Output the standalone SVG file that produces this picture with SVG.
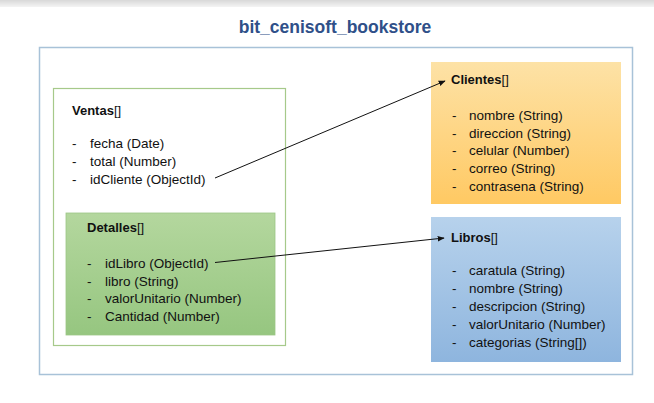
<svg xmlns="http://www.w3.org/2000/svg" width="654" height="403" viewBox="0 0 654 403">
<style>
text{font-family:"Liberation Sans",Arial,sans-serif;fill:#111}
.item{font-size:13.5px}
.hdr{font-size:13px}
.b{font-weight:bold}
.conn{stroke:#111;stroke-width:1;fill:none;marker-end:url(#arr)}
</style>
<defs>
<marker id="arr" viewBox="0 0 10 10" refX="9" refY="5" markerWidth="7" markerHeight="7" orient="auto" markerUnits="userSpaceOnUse">
<path d="M0,1 L10,5 L0,9 z" fill="#111"/>
</marker>
<linearGradient id="gGreen" x1="0" y1="0" x2="0" y2="1"><stop offset="0" stop-color="#B4D79E"/><stop offset="1" stop-color="#96C680"/></linearGradient>
<linearGradient id="gOrange" x1="0" y1="0" x2="0" y2="1"><stop offset="0" stop-color="#FDE2A6"/><stop offset="1" stop-color="#FFC963"/></linearGradient>
<linearGradient id="gBlue" x1="0" y1="0" x2="0" y2="1"><stop offset="0" stop-color="#B7D2EC"/><stop offset="1" stop-color="#8EB5DE"/></linearGradient>
<linearGradient id="gTop" x1="0" y1="0" x2="0" y2="1"><stop offset="0" stop-color="#d8d8d8"/><stop offset="1" stop-color="#f4f4f4"/></linearGradient>
</defs>
<rect width="654" height="403" fill="#fff"/>
<rect width="654" height="7" fill="url(#gTop)"/>
<g id="title"><text x="335" y="33" text-anchor="middle" class="b" style="font-size:17.5px;fill:#2F5089">bit_cenisoft_bookstore</text></g>
<g id="frame"><rect x="39.5" y="47.5" width="593" height="327" fill="none" stroke="#A8C2D8" stroke-width="1.5"/></g>
<g id="ventas">
<rect x="53.5" y="88.5" width="232" height="257" fill="#fff" stroke="#A6C98A" stroke-width="1.2"/>
<text x="72" y="115" class="hdr"><tspan class="b">Ventas</tspan>[]</text>
<text class="item"><tspan x="72" y="148">-</tspan><tspan x="90" y="148">fecha (Date)</tspan><tspan x="72" y="166">-</tspan><tspan x="90" y="166">total (Number)</tspan><tspan x="72" y="184">-</tspan><tspan x="90" y="184">idCliente (ObjectId)</tspan></text>
</g>
<g id="detalles">
<rect x="66" y="213" width="209" height="122" fill="url(#gGreen)" stroke="#9CC585" stroke-width="0.8"/>
<text x="87" y="232" class="hdr"><tspan class="b">Detalles</tspan>[]</text>
<text class="item"><tspan x="87" y="268">-</tspan><tspan x="105" y="268">idLibro (ObjectId)</tspan><tspan x="87" y="285.5">-</tspan><tspan x="105" y="285.5">libro (String)</tspan><tspan x="87" y="303">-</tspan><tspan x="105" y="303">valorUnitario (Number)</tspan><tspan x="87" y="320.5">-</tspan><tspan x="105" y="320.5">Cantidad (Number)</tspan></text>
</g>
<g id="clientes">
<rect x="431" y="62" width="190" height="142" fill="url(#gOrange)"/>
<text x="451" y="84" class="hdr"><tspan class="b">Clientes</tspan>[]</text>
<text class="item"><tspan x="452" y="120">-</tspan><tspan x="469" y="120">nombre (String)</tspan><tspan x="452" y="137.5">-</tspan><tspan x="469" y="137.5">direccion (String)</tspan><tspan x="452" y="155">-</tspan><tspan x="469" y="155">celular (Number)</tspan><tspan x="452" y="173">-</tspan><tspan x="469" y="173">correo (String)</tspan><tspan x="452" y="191">-</tspan><tspan x="469" y="191">contrasena (String)</tspan></text>
</g>
<g id="libros">
<rect x="431" y="217" width="190" height="145" fill="url(#gBlue)"/>
<text x="451" y="242" class="hdr"><tspan class="b">Libros</tspan>[]</text>
<text class="item"><tspan x="452" y="275">-</tspan><tspan x="469" y="275">caratula (String)</tspan><tspan x="452" y="293">-</tspan><tspan x="469" y="293">nombre (String)</tspan><tspan x="452" y="311">-</tspan><tspan x="469" y="311">descripcion (String)</tspan><tspan x="452" y="329">-</tspan><tspan x="469" y="329">valorUnitario (Number)</tspan><tspan x="452" y="347">-</tspan><tspan x="469" y="347">categorias (String[])</tspan></text>
</g>
<g id="connectors">
<line class="conn" x1="215" y1="178" x2="445" y2="81"/>
<line class="conn" x1="215" y1="262.5" x2="444" y2="238"/>
</g>
</svg>
